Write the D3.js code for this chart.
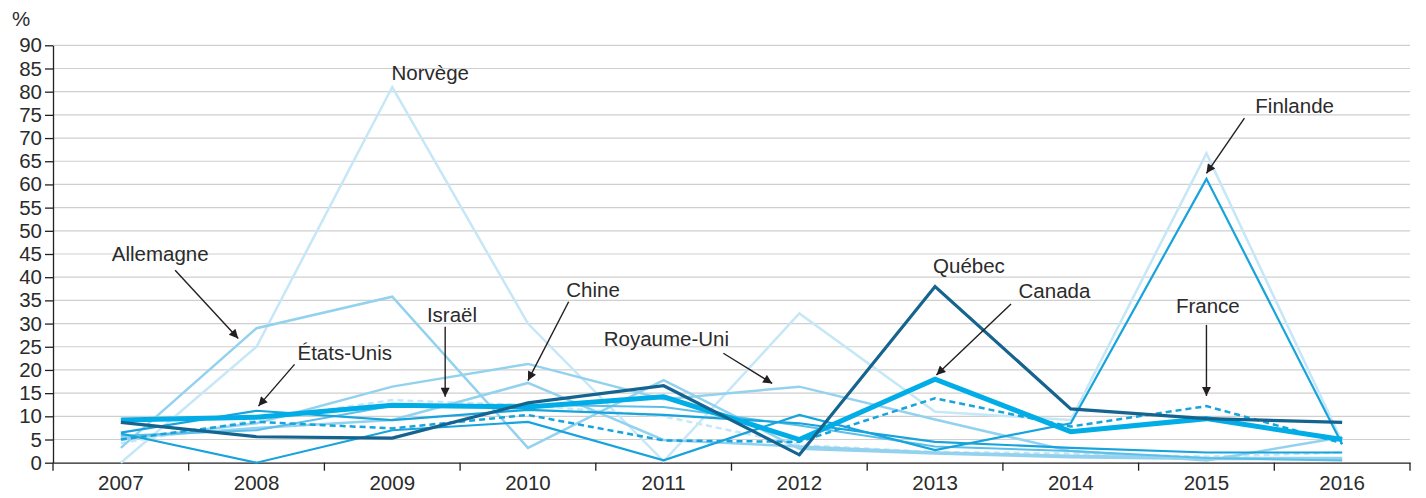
<!DOCTYPE html>
<html>
<head>
<meta charset="utf-8">
<script src="https://cdn.jsdelivr.net/npm/d3@7"></script>
<style>
  body { margin: 0; background: #fff; }
  text { font-family: "Liberation Sans", Arial, sans-serif; }
</style>
</head>
<body>
<script>
// Width and height
let w = 1426;
let h = 498;
let fs = "20.5px";

let years = ["2007", "2008", "2009", "2010", "2011", "2012", "2013", "2014", "2015", "2016"];
let yTicks = d3.range(0, 95, 5);

// series values (%)
let norvege     = [0, 25, 81, 30, 0.3, 32.2, 11, 9.2, 66.7, 4.5];
let autreDash   = [4.2, 9.2, 13.5, 12.4, 10.0, 3.8, 2.3, 2.0, 1.3, 2.2];
let allemagne   = [3.2, 29, 35.8, 3.2, 17.8, 3.0, 2.0, 1.2, 0.8, 0.8];
let chine       = [5.3, 7.5, 9.2, 17.2, 4.9, 3.5, 2.2, 1.5, 1.0, 1.0];
let royaumeUni  = [5.0, 8.5, 16.4, 21.3, 13.7, 16.4, 9.3, 2.5, 0.5, 5.5];
let israel      = [5.8, 7.0, 12.3, 12.5, 12.0, 8.0, 3.5, 2.5, 1.0, 0.5];
let etatsUnis   = [6.5, 11.2, 9.2, 11.4, 10.3, 8.5, 4.5, 3.2, 2.2, 2.2];
let finlande    = [6.3, 0, 7.0, 8.8, 0.5, 10.3, 2.7, 8.5, 61.2, 4.0];
let france      = [5.0, 8.8, 7.4, 10.3, 4.8, 4.5, 13.9, 7.8, 12.2, 4.2];
let canada      = [9.2, 9.8, 12.4, 12.0, 14.2, 5.0, 18, 6.7, 9.5, 5.0];
let quebec      = [8.7, 5.6, 5.3, 12.9, 16.6, 1.7, 38, 11.6, 9.5, 8.7];

// drawing order: back to front
let series = [
  { values: norvege,    color: "#c6e7f7", width: 2.5, dash: null },
  { values: autreDash,  color: "#c6e7f7", width: 2.5, dash: "6,4" },
  { values: allemagne,  color: "#93d2ef", width: 2.5, dash: null },
  { values: chine,      color: "#93d2ef", width: 2.5, dash: null },
  { values: royaumeUni, color: "#93d2ef", width: 2.5, dash: null },
  { values: israel,     color: "#5cbfe9", width: 2, dash: null },
  { values: etatsUnis,  color: "#17a3dc", width: 2.2, dash: null },
  { values: finlande,   color: "#17a3dc", width: 2.2, dash: null },
  { values: france,     color: "#17a3dc", width: 2.5, dash: "6,4" },
  { values: canada,     color: "#00ade6", width: 5, dash: null },
  { values: quebec,     color: "#15648f", width: 3.2, dash: null },
];

// annotations: label position and optional arrow [year, value]
let notes = [
  { text: "Norvège",     at: [2009.28, 82.5] },
  { text: "Allemagne",   at: [2007.29, 43.4], from: [2007.40, 41.5], to: [2007.865, 26.8] },
  { text: "États-Unis",  at: [2008.65, 22.1], from: [2008.28, 21.2], to: [2008.014, 12.2] },
  { text: "Israël",      at: [2009.44, 30.4], from: [2009.39, 29.3], to: [2009.39, 14.2] },
  { text: "Chine",       at: [2010.48, 35.8], from: [2010.30, 34.7], to: [2010.0, 17.7] },
  { text: "Royaume-Uni", at: [2011.02, 25.2], from: [2011.44, 23.6], to: [2011.80, 17.1] },
  { text: "Québec",      at: [2013.25, 41.0] },
  { text: "Canada",      at: [2013.88, 35.5], from: [2013.56, 34.2], to: [2013.01, 18.9] },
  { text: "France",      at: [2015.01, 32.2], from: [2015.0, 29.7], to: [2015.0, 14.4] },
  { text: "Finlande",    at: [2015.65, 75.5], from: [2015.28, 74.3], to: [2015.0, 62.4] },
];

let xScale = d3.scaleBand().domain(years).range([53, 1410]).padding(0);
let yScale = d3.scaleLinear().domain([0, 90]).range([462.7, 45.3]);
let bw = xScale.bandwidth();
let xc = (i) => xScale(years[i]) + bw / 2;
// fractional year -> pixel
let xYear = (yr) => xScale(years[0]) + bw / 2 + (yr - 2007) * bw;

let svg = d3.select("body").append("svg").attr("width", w).attr("height", h);

svg.append("defs").append("marker")
  .attr("id", "arrow")
  .attr("viewBox", "0 0 10 10")
  .attr("refX", 10).attr("refY", 5)
  .attr("markerUnits", "userSpaceOnUse")
  .attr("markerWidth", 11).attr("markerHeight", 9)
  .attr("orient", "auto")
  .append("path").attr("d", "M0,0 L10,5 L0,10 Z").attr("fill", "#231f20");

// gridlines
svg.append("g")
  .selectAll("line")
  .data(yTicks.filter((d) => d > 0))
  .enter()
  .append("line")
  .attr("x1", 53).attr("x2", 1410)
  .attr("y1", (d) => yScale(d)).attr("y2", (d) => yScale(d))
  .attr("stroke", "#cfcfcf").attr("stroke-width", 1.2);

// y axis
let yAxis = d3.axisLeft(yScale).tickValues(yTicks).tickSize(8).tickPadding(3).tickSizeOuter(0);
let gy = svg.append("g").attr("transform", "translate(53,0)").call(yAxis);
gy.selectAll("text").attr("font-size", fs).attr("fill", "#2b2b2b").attr("font-family", "Liberation Sans, Arial, sans-serif");
gy.selectAll("line, path").attr("stroke", "#231f20").attr("stroke-width", 1.3);

// x axis: labels at band centres, ticks at band edges
let xAxis = d3.axisBottom(xScale).tickSize(0).tickPadding(13).tickSizeOuter(0);
let gx = svg.append("g").attr("transform", "translate(0," + yScale(0) + ")").call(xAxis);
gx.selectAll("text").attr("font-size", fs).attr("fill", "#2b2b2b").attr("font-family", "Liberation Sans, Arial, sans-serif");
gx.select("path").attr("stroke", "#231f20").attr("stroke-width", 1.3);
gx.selectAll(".edge")
  .data(years.map((d) => xScale(d)).concat([xScale.range()[1]]))
  .enter()
  .append("line")
  .attr("class", "edge")
  .attr("x1", (d) => d).attr("x2", (d) => d)
  .attr("y1", 0).attr("y2", 8)
  .attr("stroke", "#231f20").attr("stroke-width", 1.3);

svg.append("text").attr("x", 12).attr("y", 26).text("%")
  .attr("font-size", fs).attr("fill", "#2b2b2b");

// lines
let line = d3.line().x((d, i) => xc(i)).y((d) => yScale(d));
svg.append("g")
  .selectAll("path")
  .data(series)
  .enter()
  .append("path")
  .attr("d", (d) => line(d.values))
  .attr("fill", "none")
  .attr("stroke", (d) => d.color)
  .attr("stroke-width", (d) => d.width)
  .attr("stroke-dasharray", (d) => d.dash)
  .attr("stroke-linejoin", "miter");

// annotations
let gn = svg.append("g");
gn.selectAll("line")
  .data(notes.filter((d) => d.from))
  .enter()
  .append("line")
  .attr("x1", (d) => xYear(d.from[0])).attr("y1", (d) => yScale(d.from[1]))
  .attr("x2", (d) => xYear(d.to[0])).attr("y2", (d) => yScale(d.to[1]))
  .attr("stroke", "#231f20").attr("stroke-width", 1.4)
  .attr("marker-end", "url(#arrow)");
gn.selectAll("text")
  .data(notes)
  .enter()
  .append("text")
  .text((d) => d.text)
  .attr("x", (d) => xYear(d.at[0]))
  .attr("y", (d) => yScale(d.at[1]))
  .attr("text-anchor", "middle")
  .attr("font-size", fs)
  .attr("fill", "#2b2b2b");
</script>
</body>
</html>
